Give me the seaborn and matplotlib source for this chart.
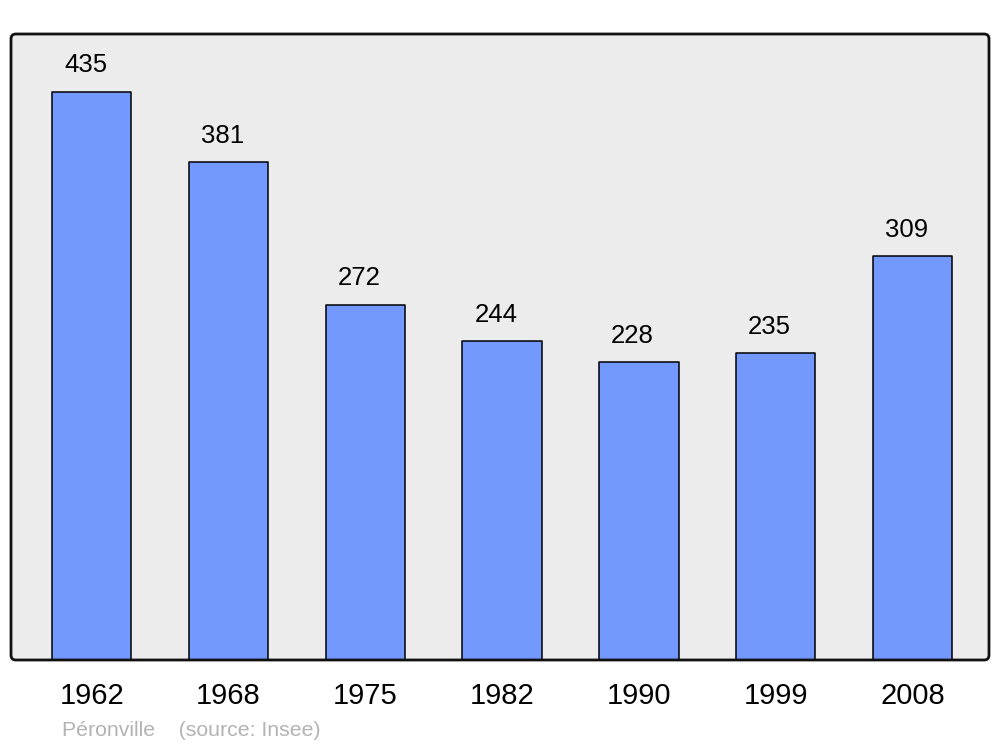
import matplotlib
matplotlib.use("Agg")
import matplotlib.pyplot as plt
from matplotlib.patches import FancyBboxPatch
import seaborn as sns
import pandas as pd

# Data
years = ["1962", "1968", "1975", "1982", "1990", "1999", "2008"]
population = [435, 381, 272, 244, 228, 235, 309]
town = "Péronville"
source = "(source: Insee)"

df = pd.DataFrame({"year": years, "pop": population})

sns.set_style("white")
plt.rcParams["font.family"] = ["Liberation Sans", "DejaVu Sans"]

fig = plt.figure(figsize=(10, 7.47), dpi=100)
ax = fig.add_axes([0.011, 87 / 747, 0.978, 626 / 747])
ax.patch.set_visible(False)

sns.barplot(data=df, x="year", y="pop", color="#7399ff", saturation=1,
            width=0.58, edgecolor="black", linewidth=1.1, ax=ax, zorder=2)
for p in ax.patches:
    p.set_joinstyle("round")

ax.set_xlim(-0.59, 6.56)
ax.set_ylim(0, 479.3)
ax.set_xlabel("")
ax.set_ylabel("")
ax.set_yticks([])
ax.tick_params(axis="x", length=0, pad=16, labelsize=21, colors="black")
for s in ax.spines.values():
    s.set_visible(False)

# rounded background frame
aspect = 978 / 626
bg = FancyBboxPatch((0, 0), 1, 1, boxstyle="round,pad=0,rounding_size=0.005",
                    mutation_aspect=aspect, transform=ax.transAxes,
                    facecolor="#ececec", edgecolor="none", zorder=0, clip_on=False)
ax.add_patch(bg)
frame = FancyBboxPatch((0, 0), 1, 1, boxstyle="round,pad=0,rounding_size=0.005",
                       mutation_aspect=aspect, transform=ax.transAxes,
                       facecolor="none", edgecolor="#111111", linewidth=2,
                       zorder=5, clip_on=False)
ax.add_patch(frame)

# value labels
for i, v in enumerate(population):
    ax.annotate(str(v), (i, v), xytext=(-4.5, 14), textcoords="offset points",
                ha="center", va="baseline", fontsize=18.5, color="black")

fig.text(0.062, 1 - 731 / 747, town + "    " + source, ha="left", va="center",
         fontsize=15.3, color="#b3b3b3")

fig.savefig("out.png", dpi=100)
